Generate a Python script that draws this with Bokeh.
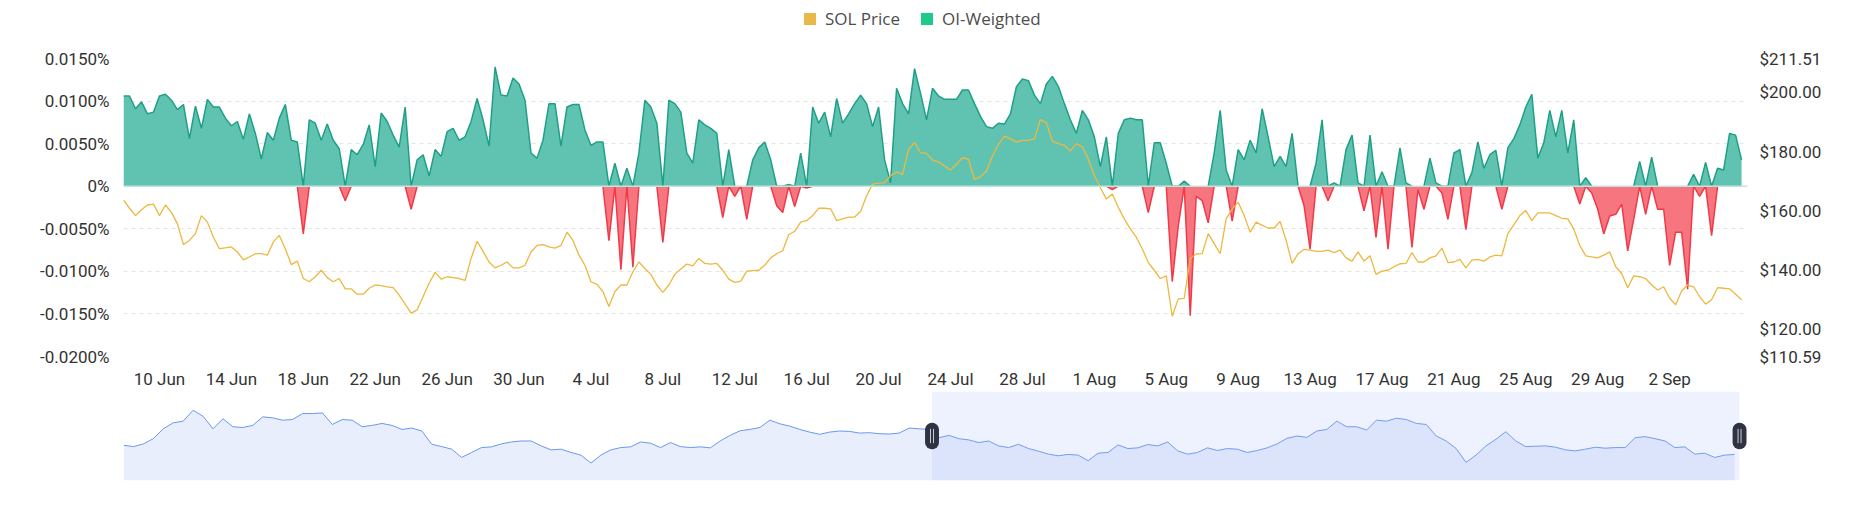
import numpy as np
import pandas as pd
from bokeh.plotting import figure
from bokeh.models import (ColumnDataSource, Range1d, LinearAxis, FixedTicker,
                          CustomJSTickFormatter, NumeralTickFormatter, Legend,
                          LegendItem, Span, BoxAnnotation)
from bokeh.layouts import column
from bokeh.embed import file_html
from bokeh.resources import INLINE

# 8-hourly series, first point 8 Jun 2024 00:00 UTC
start = "2024-06-08 00:00"
step = "8h"

# OI-weighted funding rate, in %
oi_weighted = [
    0.0106, 0.0106, 0.0091, 0.0099, 0.0085, 0.0087, 0.0106, 0.0108, 0.0101, 0.0090,
    0.0096, 0.0056, 0.0094, 0.0068, 0.0102, 0.0093, 0.0093, 0.0080, 0.0071, 0.0076,
    0.0055, 0.0085, 0.0062, 0.0032, 0.0063, 0.0054, 0.0080, 0.0096, 0.0054, 0.0052,
    -0.0056, 0.0078, 0.0074, 0.0054, 0.0073, 0.0054, 0.0044, -0.0017, 0.0043, 0.0037,
    0.0049, 0.0072, 0.0023, 0.0086, 0.0076, 0.0060, 0.0046, 0.0093, -0.0027, 0.0031,
    0.0037, 0.0012, 0.0043, 0.0035, 0.0064, 0.0068, 0.0054, 0.0058, 0.0076, 0.0103,
    0.0078, 0.0047, 0.0140, 0.0107, 0.0106, 0.0127, 0.0120, 0.0101, 0.0039, 0.0033,
    0.0054, 0.0097, 0.0097, 0.0047, 0.0093, 0.0096, 0.0096, 0.0066, 0.0048, 0.0052,
    0.0052, -0.0064, 0.0027, -0.0098, 0.0021, -0.0095, 0.0039, 0.0101, 0.0093, 0.0074,
    -0.0066, 0.0101, 0.0097, 0.0087, 0.0039, 0.0027, 0.0078, 0.0072, 0.0068, 0.0062,
    -0.0037, 0.0043, -0.0012, 0.0000, -0.0039, 0.0031, 0.0045, 0.0052, 0.0031, -0.0023,
    -0.0031, 0.0002, -0.0024, 0.0039, -0.0002, 0.0093, 0.0074, 0.0087, 0.0058, 0.0103,
    0.0074, 0.0085, 0.0097, 0.0107, 0.0097, 0.0070, 0.0093, 0.0031, 0.0004, 0.0115,
    0.0097, 0.0085, 0.0138, 0.0109, 0.0078, 0.0115, 0.0106, 0.0102, 0.0102, 0.0102,
    0.0113, 0.0113, 0.0097, 0.0082, 0.0070, 0.0068, 0.0074, 0.0073, 0.0085, 0.0117,
    0.0126, 0.0124, 0.0107, 0.0097, 0.0120, 0.0129, 0.0117, 0.0097, 0.0078, 0.0062,
    0.0089, 0.0078, 0.0058, 0.0023, 0.0058, -0.0004, 0.0062, 0.0078, 0.0080, 0.0078,
    0.0078, -0.0031, 0.0051, 0.0051, 0.0027, -0.0112, -0.0047, 0.0006, -0.0152, -0.0012,
    -0.0017, -0.0043, 0.0039, 0.0089, 0.0019, -0.0041, 0.0043, 0.0031, 0.0054, 0.0039,
    0.0091, 0.0058, 0.0023, 0.0035, 0.0023, 0.0062, 0.0000, -0.0023, -0.0074, 0.0027,
    0.0078, -0.0017, 0.0004, 0.0000, 0.0043, 0.0060, 0.0004, -0.0029, 0.0060, -0.0060,
    0.0017, -0.0074, 0.0000, 0.0045, 0.0004, -0.0072, -0.0004, -0.0027, 0.0033, 0.0004,
    -0.0008, -0.0039, 0.0039, 0.0043, -0.0051, 0.0016, 0.0052, 0.0021, 0.0037, 0.0042,
    -0.0027, 0.0045, 0.0056, 0.0072, 0.0093, 0.0108, 0.0033, 0.0051, 0.0089, 0.0058,
    0.0089, 0.0039, 0.0078, -0.0021, 0.0010, -0.0008, -0.0027, -0.0056, -0.0035, -0.0033,
    -0.0021, -0.0076, -0.0039, 0.0029, -0.0033, 0.0034, -0.0027, -0.0027, -0.0093, -0.0054,
    -0.0054, -0.0121, 0.0014, -0.0012, 0.0028, -0.0058, 0.0021, 0.0019, 0.0062, 0.0060,
    0.0031,
]

# SOL price, USD
sol_price = [
    163.6, 160.8, 158.3, 160.3, 161.9, 162.2, 158.3, 161.9, 159.4, 155.5,
    148.5, 149.9, 152.2, 158.3, 156.1, 151.0, 147.1, 147.4, 147.7, 146.0,
    143.3, 144.3, 145.4, 145.4, 144.9, 149.4, 151.6, 147.1, 141.7, 142.9,
    137.0, 135.9, 137.6, 139.8, 137.3, 135.9, 137.0, 133.5, 133.5, 131.7,
    131.7, 133.7, 134.8, 134.6, 134.2, 133.9, 131.4, 128.3, 125.3, 126.4,
    130.9, 135.4, 139.1, 136.8, 137.6, 137.3, 137.0, 136.4, 143.8, 149.6,
    146.2, 142.6, 140.6, 141.5, 142.6, 140.6, 140.6, 141.5, 146.0, 148.2,
    148.5, 147.7, 147.3, 148.2, 152.7, 149.9, 144.9, 141.5, 135.9, 135.0,
    132.6, 127.5, 132.6, 134.8, 134.8, 139.3, 142.6, 140.4, 138.4, 134.8,
    132.3, 134.8, 138.4, 140.2, 141.9, 141.3, 143.8, 142.1, 141.9, 142.1,
    139.8, 136.8, 135.7, 136.1, 139.5, 139.7, 139.8, 141.5, 144.0, 145.4,
    146.4, 151.8, 153.0, 156.1, 156.6, 158.3, 160.8, 160.8, 160.6, 156.6,
    157.2, 157.8, 157.8, 159.7, 165.0, 169.0, 169.3, 169.5, 171.8, 173.1,
    172.3, 180.7, 183.0, 179.6, 179.4, 177.1, 176.5, 175.1, 173.7, 175.7,
    177.9, 177.4, 170.6, 171.5, 173.4, 178.5, 182.4, 185.2, 184.3, 183.2,
    183.8, 183.8, 184.3, 190.8, 189.7, 183.5, 182.7, 182.1, 180.2, 182.7,
    181.6, 177.4, 171.8, 167.8, 163.9, 165.6, 161.1, 157.2, 153.8, 151.0,
    147.1, 142.4, 139.8, 137.0, 137.9, 124.2, 130.1, 130.3, 143.8, 145.3,
    145.4, 152.2, 148.8, 145.4, 157.2, 160.6, 162.8, 158.3, 152.7, 156.1,
    155.0, 154.1, 154.1, 156.3, 149.9, 142.1, 145.4, 146.9, 146.6, 146.2,
    146.2, 146.6, 145.8, 146.6, 144.0, 142.9, 146.0, 142.9, 144.7, 138.4,
    139.5, 139.8, 141.0, 142.0, 142.1, 145.8, 142.6, 142.6, 144.0, 144.7,
    147.3, 142.4, 142.6, 143.5, 140.6, 143.2, 143.5, 142.9, 144.3, 144.9,
    144.7, 152.2, 155.2, 158.3, 160.0, 156.6, 159.2, 159.2, 159.2, 158.3,
    157.4, 157.2, 153.8, 148.2, 144.7, 144.3, 144.0, 144.9, 146.0, 141.0,
    138.7, 133.9, 137.9, 137.6, 137.0, 134.8, 133.1, 134.2, 130.3, 128.1,
    132.8, 134.8, 134.2, 130.9, 128.3, 129.8, 133.9, 133.7, 133.5, 131.7,
    129.8,
]

tick_dates = ["2024-06-10", "2024-06-14", "2024-06-18", "2024-06-22", "2024-06-26",
              "2024-06-30", "2024-07-04", "2024-07-08", "2024-07-12", "2024-07-16",
              "2024-07-20", "2024-07-24", "2024-07-28", "2024-08-01", "2024-08-05",
              "2024-08-09", "2024-08-13", "2024-08-17", "2024-08-21", "2024-08-25",
              "2024-08-29", "2024-09-02"]
rate_ticks = [-0.02, -0.015, -0.01, -0.005, 0.0, 0.005, 0.01, 0.015]
price_ticks = [110.59, 120, 140, 160, 180, 200, 211.51]

# navigator overview line (no axis, relative height 0-100)
navigator = [
    39.6, 38.1, 41.1, 47.0, 58.1, 64.8, 66.7, 78.9, 72.2, 58.1,
    69.3, 60.4, 59.6, 61.9, 71.5, 70.4, 67.8, 68.5, 75.2, 75.2,
    75.9, 63.0, 68.5, 67.8, 60.4, 61.9, 64.1, 61.9, 57.4, 58.9,
    55.6, 40.7, 38.1, 35.2, 25.9, 31.5, 37.0, 37.8, 41.1, 43.3,
    44.4, 44.4, 38.9, 34.4, 35.2, 31.5, 28.5, 19.6, 28.5, 34.4,
    37.0, 37.8, 43.3, 41.9, 37.0, 42.6, 38.1, 37.0, 37.8, 36.7,
    44.4, 50.7, 55.9, 57.4, 59.6, 67.8, 63.7, 61.1, 57.4, 54.4,
    51.9, 54.4, 55.6, 55.2, 53.3, 53.7, 52.6, 52.2, 53.3, 58.9,
    58.1, 57.4, 48.1, 50.7, 47.0, 45.6, 42.6, 44.4, 38.9, 37.0,
    40.7, 35.9, 33.0, 29.6, 27.8, 29.3, 28.5, 22.2, 30.7, 31.5,
    40.0, 35.9, 36.7, 40.4, 38.9, 43.3, 33.3, 29.6, 31.5, 36.7,
    33.7, 35.9, 35.2, 31.5, 33.7, 36.7, 41.1, 47.4, 50.0, 48.5,
    55.6, 57.4, 66.7, 60.4, 60.4, 56.7, 67.8, 66.7, 70.0, 68.5,
    64.1, 63.0, 50.0, 44.4, 35.9, 20.4, 28.5, 38.9, 46.3, 54.8,
    44.4, 38.1, 38.5, 38.9, 37.4, 34.4, 33.3, 35.2, 37.4, 36.3,
    37.0, 37.0, 48.1, 49.3, 47.0, 44.4, 37.0, 37.8, 29.6, 30.7,
    25.9, 28.5, 29.3,
]
nav_selection = (81.3, 162.5)

times = pd.date_range(start, periods=len(oi_weighted), freq=step)
t0 = pd.Timestamp(start).timestamp() * 1000
day_ms = 86400000

r = np.array(oi_weighted)
pos = np.where(r > 0, r, 0.0)
neg = np.where(r < 0, r, 0.0)
prev_r = np.concatenate([[r[0]], r[:-1]])
next_r = np.concatenate([r[1:], [r[-1]]])
g_line = np.where((r > 0) | (prev_r > 0) | (next_r > 0), pos, np.nan)
r_line = np.where((r < 0) | (prev_r < 0) | (next_r < 0), neg, np.nan)

source = ColumnDataSource(dict(time=times, pos=pos, neg=neg, g_line=g_line,
                               r_line=r_line, price=sol_price))

font = "Roboto"
text_color = "#333333"

# legend strip on top
leg = figure(width=1836, height=36, x_range=Range1d(0, 1), y_range=Range1d(0, 1),
             output_backend="svg", toolbar_location=None,
             min_border_left=0, min_border_right=0, min_border_top=0,
             min_border_bottom=0)
leg.axis.visible = False
leg.grid.visible = False
leg.outline_line_color = None
sw_price = leg.varea(x=[0, 0], y1=[0, 0], y2=[0, 0], fill_color="#E8B94A")
sw_oi = leg.varea(x=[0, 0], y1=[0, 0], y2=[0, 0], fill_color="#1ec98a")
legend = Legend(items=[LegendItem(label="SOL Price", renderers=[sw_price]),
                       LegendItem(label="OI-Weighted", renderers=[sw_oi])],
                orientation="horizontal", location=(679, 6),
                glyph_width=15, glyph_height=15, label_height=15,
                label_standoff=8, spacing=19, padding=0, margin=0,
                border_line_color=None, background_fill_alpha=0,
                label_text_font="Open Sans", label_text_font_size="17px",
                label_text_color="#4d4d4d")
leg.add_layout(legend)

p = figure(width=1836, height=355, x_axis_type="datetime",
           x_range=Range1d(t0, t0 + 90.33 * day_ms), y_range=Range1d(-0.02, 0.015),
           output_backend="svg", toolbar_location=None,
           min_border_left=121, min_border_right=89, min_border_top=22,
           min_border_bottom=33)
p.extra_y_ranges = {"price": Range1d(110.59, 211.51)}
p.outline_line_color = None
p.background_fill_color = "white"

p.varea(x="time", y1=0, y2="pos", fill_color="#60c3b1", source=source)
p.varea(x="time", y1=0, y2="neg", fill_color="#f7757f", source=source)
p.line(x="time", y="g_line", line_color="#1fa086", line_width=1.5, source=source)
p.line(x="time", y="r_line", line_color="#f03a4a", line_width=1.5, source=source)
p.add_layout(Span(location=0, dimension="width", line_color="#bfe6dd", line_width=1.5))
p.line(x="time", y="price", y_range_name="price", line_color="#EDB83F",
       line_width=1.3, source=source)

# left axis, rates
p.yaxis.ticker = FixedTicker(ticks=rate_ticks)
p.yaxis.formatter = CustomJSTickFormatter(
    code="return tick == 0 ? '0%' : tick.toFixed(4) + '%';")
p.ygrid.ticker = FixedTicker(ticks=rate_ticks)
p.ygrid.grid_line_color = "#e6e6e6"
p.ygrid.grid_line_dash = "4 4"
p.xgrid.visible = False

# right axis, price
price_axis = LinearAxis(y_range_name="price", ticker=FixedTicker(ticks=price_ticks),
                        formatter=NumeralTickFormatter(format="$0.00"))
p.add_layout(price_axis, "right")

# bottom axis, dates
tick_ms = [pd.Timestamp(d).timestamp() * 1000 for d in tick_dates]
p.xaxis.ticker = FixedTicker(ticks=tick_ms)
p.xaxis.formatter = CustomJSTickFormatter(code="""
const m = ["Jan","Feb","Mar","Apr","May","Jun","Jul","Aug","Sep","Oct","Nov","Dec"];
const d = new Date(tick);
return d.getUTCDate() + " " + m[d.getUTCMonth()];
""")

for ax in p.axis:
    ax.axis_line_color = None
    ax.major_tick_line_color = None
    ax.minor_tick_line_color = None
    ax.major_tick_out = 0
    ax.major_tick_in = 0
    ax.minor_tick_out = 0
    ax.major_label_text_font = font
    ax.major_label_text_font_size = "17px"
    ax.major_label_text_color = text_color
p.yaxis[0].major_label_standoff = 14
price_axis.major_label_standoff = 12
p.xaxis.major_label_standoff = 12

# navigator
nav_index = np.arange(len(navigator))
nav = figure(width=1836, height=99, x_range=Range1d(0, 163.3), y_range=Range1d(0, 100),
             output_backend="svg", toolbar_location=None,
             min_border_left=123, min_border_right=80, min_border_top=0,
             min_border_bottom=10)
nav.axis.visible = False
nav.grid.visible = False
nav.outline_line_color = None
nav.varea(x=nav_index, y1=0, y2=navigator, fill_color="#e8eefb")
nav.line(x=nav_index, y=navigator, line_color="#6b97f2", line_width=1)
nav.add_layout(BoxAnnotation(left=nav_selection[0], right=nav_selection[1],
                             fill_color="#9db4f9", fill_alpha=0.17, line_color=None))
for hx in nav_selection:
    nav.add_layout(BoxAnnotation(left=hx - 0.7, right=hx + 0.7, bottom=35, top=65,
                                 fill_color="#2f3242", fill_alpha=1, line_color=None,
                                 border_radius=7))
    nav.segment(x0=[hx - 0.15, hx + 0.15], y0=[42, 42], x1=[hx - 0.15, hx + 0.15],
                y1=[58, 58], line_color="#c9ccd6", line_width=1, level="overlay")

layout = column(leg, p, nav)
open("out.html", "w").write(file_html(layout, INLINE))
